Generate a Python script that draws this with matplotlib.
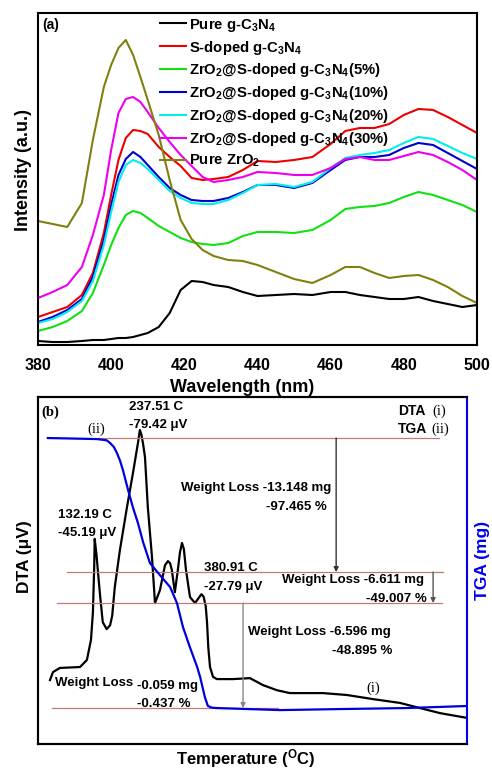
import matplotlib
matplotlib.use("Agg")
import matplotlib.pyplot as plt

# ---- panel (a): PL spectra ----
wavelength = [380, 384, 388, 392, 395, 398, 400, 402, 404, 406, 408, 410, 413, 416, 419,
              422, 425, 428, 432, 436, 440, 445, 450, 455, 460, 464, 468, 472, 476, 480,
              484, 488, 492, 496, 500]
pure_gcn = [4, 3, 3, 4, 5, 5, 6, 7, 7, 8, 10, 12, 18, 32, 55,
            64, 63, 60, 58, 53, 49, 50, 51, 50, 53, 53, 50, 48, 46, 46,
            48, 44, 41, 38, 40]
s_doped = [28, 33, 38, 50, 72, 112, 150, 185, 207, 215, 214, 211, 198, 188, 179,
           167, 165, 166, 168, 175, 184, 183, 185, 188, 201, 214, 217, 217, 221, 230,
           236, 235, 228, 220, 212]
zr_5 = [14, 18, 24, 34, 52, 80, 100, 117, 130, 134, 132, 127, 119, 113, 107,
        103, 101, 100, 102, 109, 113, 113, 112, 115, 125, 136, 138, 139, 142, 148,
        153, 150, 145, 140, 133]
zr_10 = [23, 28, 35, 46, 68, 105, 140, 170, 186, 193, 188, 180, 168, 157, 150,
         145, 144, 144, 147, 153, 160, 160, 157, 162, 175, 185, 188, 188, 190, 197,
         202, 200, 192, 184, 176]
zr_20 = [22, 26, 33, 44, 64, 100, 133, 163, 180, 185, 182, 176, 165, 154, 147,
         142, 141, 141, 145, 152, 160, 161, 158, 163, 177, 187, 190, 192, 195, 202,
         208, 206, 199, 192, 186]
zr_30 = [47, 53, 60, 78, 110, 150, 195, 232, 246, 248, 243, 233, 217, 203, 190,
         179, 168, 163, 165, 168, 173, 172, 170, 170, 177, 186, 188, 185, 185, 189,
         193, 190, 183, 175, 165]
pure_zro2 = [124, 121, 118, 142, 205, 258, 280, 297, 305, 290, 268, 245, 210, 165, 125,
             106, 95, 89, 85, 84, 80, 73, 66, 62, 70, 78, 78, 72, 67, 69,
             70, 65, 58, 49, 42]

series = [pure_gcn, s_doped, zr_5, zr_10, zr_20, zr_30, pure_zro2]
labels = ["Pure g-C$_3$N$_4$",
          "S-doped g-C$_3$N$_4$",
          "ZrO$_2$@S-doped g-C$_3$N$_4$(5%)",
          "ZrO$_2$@S-doped g-C$_3$N$_4$(10%)",
          "ZrO$_2$@S-doped g-C$_3$N$_4$(20%)",
          "ZrO$_2$@S-doped g-C$_3$N$_4$(30%)",
          "Pure ZrO$_2$"]
colors = ["black", "#ee0000", "#11e011", "#0000cc", "#00eeee", "#ee00ee", "#808010"]
xticks_a = [380, 400, 420, 440, 460, 480, 500]

# ---- panel (b): DTA / TGA ----
dta_temp = [28, 35, 51, 98, 114, 123.5, 128, 131, 132.19, 136.5, 141, 145, 151, 160, 168,
            173, 179, 191, 207.5, 221.4, 233, 237.51, 241, 245, 249.4, 256, 265.7, 272.7,
            284.4, 296, 303, 308, 312, 319, 326, 331, 335.7, 340, 345, 354.3, 366, 374,
            380.91, 386, 391, 394, 397, 401, 408, 417, 454.5, 494, 524.5, 557, 587, 664,
            720, 781, 844, 890, 937, 1000]
dta_uv = [-0.8, -3.3, -4.6, -4.9, -7.1, -13.4, -22, -36, -45.19, -40, -33, -27, -19, -16.8, -18,
          -21, -30, -41.7, -55.2, -65.9, -75.3, -79.42, -78, -75, -70.9, -55.2, -39.5, -25.0,
          -29.1, -36.9, -38.2, -37.5, -35.4, -28.4, -35.4, -41, -43.9, -42, -35.4, -26.9, -25.0, -26.5,
          -27.79, -27, -24, -19, -11, -4.9, -1.8, -1.1, -1.1, -1.4, 0.8, 2.4, 3.3, 3.3,
          3.9, 5.2, 6.4, 8.0, 9.6, 11.1]
tga_temp = [23, 137, 160, 168, 177, 184, 191, 198, 210, 221, 233, 245, 261, 284, 308, 324,
            338, 354, 371, 378, 389, 396, 405, 417, 564, 704, 860, 1000]
tga_mass = [13.49, 13.44, 13.38, 13.25, 13.05, 12.76, 12.4, 11.93, 10.96, 10.13, 9.35, 8.42,
            7.40, 6.82, 6.23, 5.45, 4.28, 3.31, 2.34, 1.85, 0.87, 0.44, 0.36, 0.34, 0.24,
            0.29, 0.34, 0.44]
# weight-loss guide levels (mg) and their temperature spans
level_mass = [13.49, 6.96, 5.45, 0.34]
level_start = [140, 67, 44, 33]
level_end = [935, 944, 942, 560]

plt.rcParams["font.family"] = ["Liberation Sans", "DejaVu Sans"]
plt.rcParams["font.weight"] = "bold"
plt.rcParams["axes.labelweight"] = "bold"
plt.rcParams["mathtext.fontset"] = "custom"
plt.rcParams["mathtext.rm"] = "Liberation Sans:bold"
plt.rcParams["mathtext.it"] = "Liberation Sans:bold"
plt.rcParams["mathtext.bf"] = "Liberation Sans:bold"
plt.rcParams["mathtext.default"] = "rm"

fig = plt.figure(figsize=(4.92, 7.72), dpi=100)

# panel (a)
ax = fig.add_axes([0.0772, 0.5531, 0.8923, 0.4301])
for y, lab, c in zip(series, labels, colors):
    ax.plot(wavelength, y, color=c, lw=1.5, label=lab)
ax.set_xlim(380, 500)
ax.set_ylim(0, 332)
ax.set_xticks(xticks_a)
ax.set_yticks([])
ax.tick_params(axis="x", length=0, pad=9, labelsize=11.5)
ax.set_xlabel("Wavelength (nm)", fontsize=13)
ax.set_ylabel("Intensity (a.u.)", fontsize=13)
ax.xaxis.set_label_coords(0.465, -0.102)
ax.yaxis.set_label_coords(-0.014, 0.527)
for s in ax.spines.values():
    s.set_linewidth(1.5)
ax.text(0.01, 0.965, "(a)", transform=ax.transAxes, fontsize=10, va="center")
ax.legend(loc="upper left", bbox_to_anchor=(0.278, 0.989), frameon=False,
          borderpad=0, borderaxespad=0, handlelength=1.75, handletextpad=0.2,
          labelspacing=0.33, prop={"size": 10.7, "weight": "bold"})

# panel (b)
bx = fig.add_axes([0.0772, 0.0363, 0.8720, 0.4495])
bx.plot(dta_temp, dta_uv, color="black", lw=1.6)
bx.set_xlim(0, 1000)
bx.set_ylim(19.3, -89.8)
bx.set_xticks([])
bx.set_yticks([])
bx.set_xlabel("Temperature ($^{O}$C)", fontsize=12)
bx.set_ylabel("DTA (μV)", fontsize=12.5)
bx.xaxis.set_label_coords(0.485, -0.008)
bx.yaxis.set_label_coords(-0.014, 0.539)

tx = bx.twinx()
tx.plot(tga_temp, tga_mass, color="#0000dd", lw=1.6)
tx.set_ylim(-1.41, 15.49)
tx.set_yticks([])
tx.set_ylabel("TGA (mg)", color="#0000ee", fontsize=12.5)
tx.yaxis.set_label_coords(1.019, 0.530)
for s in ["left", "top", "bottom"]:
    tx.spines[s].set_linewidth(1.5)
tx.spines["right"].set_linewidth(1.5)
tx.spines["right"].set_color("#0000ee")
for s in bx.spines.values():
    s.set_linewidth(1.5)
bx.spines["right"].set_visible(False)

for m, t0, t1 in zip(level_mass, level_start, level_end):
    tx.plot([t0, t1], [m, m], color="#c07a7a", lw=0.9, zorder=1)

arrow_t = [695, 921, 478]
arrow_from = [level_mass[0], level_mass[1], level_mass[2]]
arrow_to = [level_mass[1], level_mass[2], level_mass[3]]
arrow_col = ["#333333", "#555555", "#888888"]
for t, m0, m1, c in zip(arrow_t, arrow_from, arrow_to, arrow_col):
    tx.annotate("", xy=(t, m1), xytext=(t, m0),
                arrowprops=dict(arrowstyle="-|>", color=c, lw=1.0,
                                mutation_scale=7, shrinkA=0, shrinkB=0))

fs = 9.5
tr = tx.transAxes
tx.text(0.009, 0.957, "(b)", transform=tr, fontsize=10.5, va="center",
        family="Liberation Serif", weight="bold")
tx.text(0.212, 0.971, "237.51 C", transform=tr, fontsize=fs, va="center")
tx.text(0.212, 0.919, "-79.42 μV", transform=tr, fontsize=fs, va="center")
tx.text(0.114, 0.908, "(ii)", transform=tr, fontsize=10.5, va="center",
        family="Liberation Serif", weight="normal")
tx.text(0.839, 0.960, "DTA", transform=tr, fontsize=10, va="center")
tx.text(0.920, 0.960, "(i)", transform=tr, fontsize=10.5, va="center",
        family="Liberation Serif", weight="normal")
tx.text(0.839, 0.908, "TGA", transform=tr, fontsize=10, va="center")
tx.text(0.918, 0.908, "(ii)", transform=tr, fontsize=10.5, va="center",
        family="Liberation Serif", weight="normal")
tx.text(0.333, 0.738, "Weight Loss -13.148 mg", transform=tr, fontsize=fs, va="center")
tx.text(0.674, 0.683, "-97.465 %", transform=tr, fontsize=fs, va="center", ha="right")
tx.text(0.047, 0.660, "132.19 C", transform=tr, fontsize=fs, va="center")
tx.text(0.047, 0.608, "-45.19 μV", transform=tr, fontsize=fs, va="center")
tx.text(0.387, 0.507, "380.91 C", transform=tr, fontsize=fs, va="center")
tx.text(0.387, 0.452, "-27.79 μV", transform=tr, fontsize=fs, va="center")
tx.text(0.569, 0.473, "Weight Loss -6.611 mg", transform=tr, fontsize=fs, va="center")
tx.text(0.907, 0.418, "-49.007 %", transform=tr, fontsize=fs, va="center", ha="right")
tx.text(0.490, 0.323, "Weight Loss -6.596 mg", transform=tr, fontsize=fs, va="center")
tx.text(0.825, 0.268, "-48.895 %", transform=tr, fontsize=fs, va="center", ha="right")
tx.text(0.781, 0.161, "(i)", transform=tr, fontsize=10.5, va="center", ha="center",
        family="Liberation Serif", weight="normal")
tx.text(0.040, 0.176, "Weight Loss", transform=tr, fontsize=fs, va="center")
tx.text(0.231, 0.167, "-0.059 mg", transform=tr, fontsize=fs, va="center")
tx.text(0.231, 0.115, "-0.437 %", transform=tr, fontsize=fs, va="center")

fig.savefig("out.png", dpi=100)
